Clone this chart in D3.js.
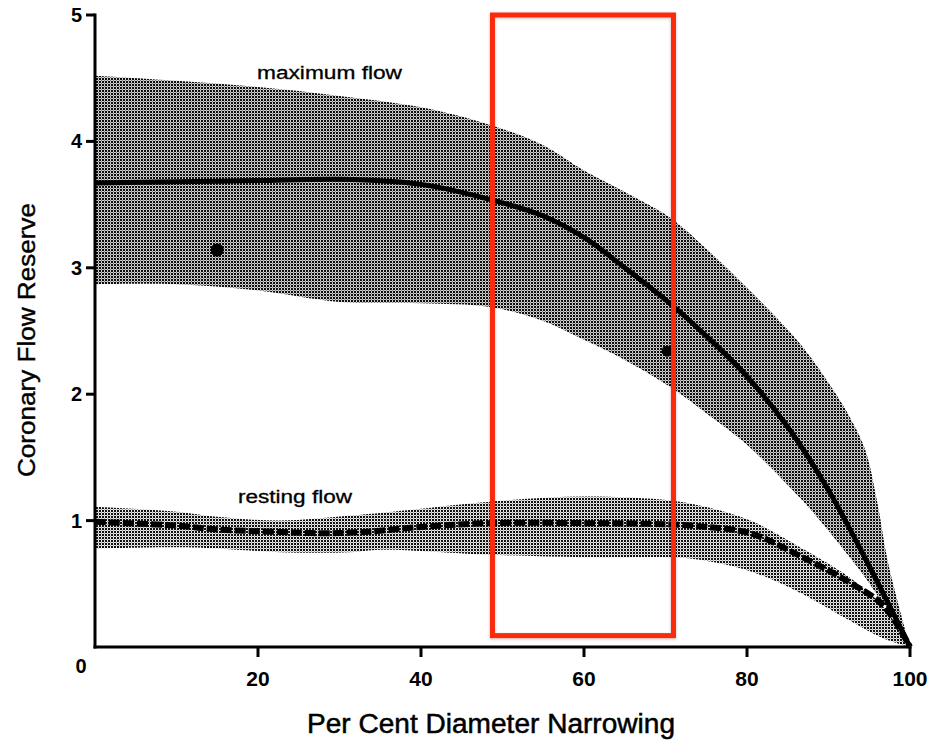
<!DOCTYPE html>
<html>
<head>
<meta charset="utf-8">
<script src="https://cdn.jsdelivr.net/npm/d3@7"></script>
<style>
  html, body { margin: 0; padding: 0; background: #fff; }
  svg { display: block; }
  text { font-family: "Liberation Sans", Arial, Helvetica, sans-serif; fill: #000; }
</style>
</head>
<body>
<svg id="chart" width="929" height="741"></svg>
<script>
// ---- data ----
const maxBandX     = [0, 10, 20, 30, 40, 48.5, 55, 60, 65, 70.5, 75, 80, 86.5, 90, 92.6, 94.5, 96, 97.2, 98.8, 100];
const maxBandUpper = [4.52, 4.48, 4.43, 4.36, 4.27, 4.13, 3.97, 3.77, 3.60, 3.40, 3.15, 2.84, 2.40, 2.09, 1.82, 1.56, 1.14, 0.70, 0.28, 0];
const maxBandLower = [2.87, 2.87, 2.82, 2.73, 2.72, 2.69, 2.58, 2.43, 2.27, 2.06, 1.85, 1.60, 1.18, 0.92, 0.71, 0.55, 0.41, 0.31, 0.16, 0];

const maxLineX = [0, 10, 20, 30, 40, 48.5, 55, 60, 65, 70.5, 75, 80, 85, 90, 95, 100];
const maxLineY = [3.67, 3.68, 3.69, 3.70, 3.66, 3.54, 3.41, 3.24, 3.00, 2.72, 2.46, 2.14, 1.74, 1.24, 0.64, 0];

const restBandX     = [0, 10, 15, 22.7, 31.3, 35, 48.5, 60, 70.5, 74.2, 80.4, 86.5, 92.6, 96.7, 100];
const restBandUpper = [1.11, 1.07, 1.03, 1.00, 1.04, 1.06, 1.15, 1.19, 1.16, 1.12, 1.00, 0.79, 0.55, 0.32, 0];
const restBandLower = [0.78, 0.79, 0.78, 0.75, 0.75, 0.77, 0.73, 0.71, 0.71, 0.69, 0.60, 0.43, 0.21, 0.07, 0];

const restLineX = [0, 10, 15, 22.7, 28, 33, 40, 48.5, 60, 70.5, 75, 80.4, 86.5, 92.6, 96.7, 100];
const restLineY = [0.99, 0.96, 0.93, 0.91, 0.90, 0.91, 0.95, 0.98, 0.98, 0.97, 0.95, 0.90, 0.72, 0.51, 0.33, 0];

const dotsX = [15, 70.2];
const dotsY = [3.14, 2.34];

const xTicks = [20, 40, 60, 80, 100];
const yTicks = [1, 2, 3, 4, 5];

const highlightX = [48.77, 70.98];
const highlightY = [0.09, 5.0];

const bandLabels = ["maximum flow", "resting flow"];
const xTitle = "Per Cent Diameter Narrowing";
const yTitle = "Coronary Flow Reserve";

// ---- layout ----
const svg = d3.select("#chart");
const x = d3.scaleLinear().domain([0, 100]).range([95, 910]);
const y = d3.scaleLinear().domain([0, 5]).range([647, 15]);

// halftone patterns
const defs = svg.append("defs");
function halftone(id, bg, gap, dot) {
  const p = defs.append("pattern")
    .attr("id", id).attr("patternUnits", "userSpaceOnUse")
    .attr("width", 3).attr("height", 3);
  p.append("rect").attr("width", 3).attr("height", 3).attr("fill", bg);
  p.append("rect").attr("x", 2).attr("y", 2).attr("width", 1).attr("height", 1).attr("fill", gap);
  p.append("rect").attr("x", 0).attr("y", 0).attr("width", 2).attr("height", 2).attr("fill", dot);
}
halftone("halftoneMax", "#d0d0d0", "#808080", "#0d0d0d");
halftone("halftoneRest", "#e8e8e8", "#a8a8a8", "#111");

const shadow = defs.append("filter").attr("id", "shadow")
  .attr("x", "-5%").attr("y", "-5%").attr("width", "110%").attr("height", "110%");
shadow.append("feDropShadow").attr("dx", 0).attr("dy", 1).attr("stdDeviation", 1.5)
  .attr("flood-color", "#000").attr("flood-opacity", 0.25);

const curve = d3.curveCatmullRom.alpha(0.5);

// bands
const restBand = restBandX.map((v, i) => ({ x: v, lo: restBandLower[i], hi: restBandUpper[i] }));
const maxBand = maxBandX.map((v, i) => ({ x: v, lo: maxBandLower[i], hi: maxBandUpper[i] }));
const area = d3.area().x(d => x(d.x)).y0(d => y(d.lo)).y1(d => y(d.hi)).curve(curve);

svg.append("path").datum(restBand).attr("d", area).attr("fill", "url(#halftoneRest)");
svg.append("path").datum(maxBand).attr("d", area).attr("fill", "url(#halftoneMax)");

// lines
const line = d3.line().x(d => x(d[0])).y(d => y(d[1])).curve(curve);
svg.append("path").datum(maxLineX.map((v, i) => [v, maxLineY[i]]))
  .attr("d", line).attr("fill", "none").attr("stroke", "#000").attr("stroke-width", 5);
svg.append("path").datum(restLineX.map((v, i) => [v, restLineY[i]]))
  .attr("d", line).attr("fill", "none").attr("stroke", "#000").attr("stroke-width", 6)
  .attr("stroke-dasharray", "11,3");

// dots
svg.selectAll("circle.dot").data(dotsX.map((v, i) => [v, dotsY[i]])).enter()
  .append("circle").attr("class", "dot")
  .attr("cx", d => x(d[0])).attr("cy", d => y(d[1]))
  .attr("r", (d, i) => i === 0 ? 6.5 : 5.5).attr("fill", "#000");

// axes
const axisG = svg.append("g");
axisG.append("line").attr("x1", x(0)).attr("x2", x(0)).attr("y1", y(5) - 1.5).attr("y2", y(0) + 1.5)
  .attr("stroke", "#000").attr("stroke-width", 3);
axisG.append("line").attr("x1", x(0) - 1.5).attr("x2", x(100) + 1.5).attr("y1", y(0)).attr("y2", y(0))
  .attr("stroke", "#000").attr("stroke-width", 3);

axisG.selectAll("line.yt").data(yTicks).enter().append("line").attr("class", "yt")
  .attr("x1", x(0) - 9).attr("x2", x(0)).attr("y1", d => y(d)).attr("y2", d => y(d))
  .attr("stroke", "#000").attr("stroke-width", 3);
axisG.selectAll("text.yl").data(yTicks).enter().append("text").attr("class", "yl")
  .attr("x", x(0) - 13).attr("y", d => y(d) + 7)
  .attr("text-anchor", "end").attr("font-size", 20).attr("font-weight", "bold")
  .text(d => d);

axisG.selectAll("line.xt").data(xTicks).enter().append("line").attr("class", "xt")
  .attr("x1", d => x(d)).attr("x2", d => x(d)).attr("y1", y(0)).attr("y2", y(0) + 10)
  .attr("stroke", "#000").attr("stroke-width", 3);
axisG.selectAll("text.xl").data(xTicks).enter().append("text").attr("class", "xl")
  .attr("x", d => x(d)).attr("y", y(0) + 39)
  .attr("text-anchor", "middle").attr("font-size", 21).attr("font-weight", "bold")
  .text(d => d);
axisG.append("text").attr("x", x(0) - 14).attr("y", y(0) + 26)
  .attr("text-anchor", "middle").attr("font-size", 20).attr("font-weight", "bold").text(0);

// titles
svg.append("text").attr("x", 307).attr("y", 733)
  .attr("font-size", 27).attr("textLength", 368).attr("lengthAdjust", "spacingAndGlyphs")
  .attr("stroke", "#000").attr("stroke-width", 0.5)
  .text(xTitle);
svg.append("text").attr("transform", "translate(35,477) rotate(-90)")
  .attr("font-size", 23).attr("textLength", 274).attr("lengthAdjust", "spacingAndGlyphs")
  .attr("stroke", "#000").attr("stroke-width", 0.4)
  .text(yTitle);

// band labels
svg.append("text").attr("x", 257).attr("y", 79).attr("font-size", 18)
  .attr("textLength", 145).attr("lengthAdjust", "spacingAndGlyphs")
  .attr("stroke", "#000").attr("stroke-width", 0.3).text(bandLabels[0]);
svg.append("text").attr("x", 238).attr("y", 503).attr("font-size", 18)
  .attr("textLength", 114).attr("lengthAdjust", "spacingAndGlyphs")
  .attr("stroke", "#000").attr("stroke-width", 0.3).text(bandLabels[1]);

// highlight rectangle
svg.append("rect")
  .attr("x", x(highlightX[0])).attr("y", y(highlightY[1]))
  .attr("width", x(highlightX[1]) - x(highlightX[0]))
  .attr("height", y(highlightY[0]) - y(highlightY[1]))
  .attr("fill", "none").attr("stroke", "#fb2a10").attr("stroke-width", 5)
  .attr("filter", "url(#shadow)");
</script>
</body>
</html>
